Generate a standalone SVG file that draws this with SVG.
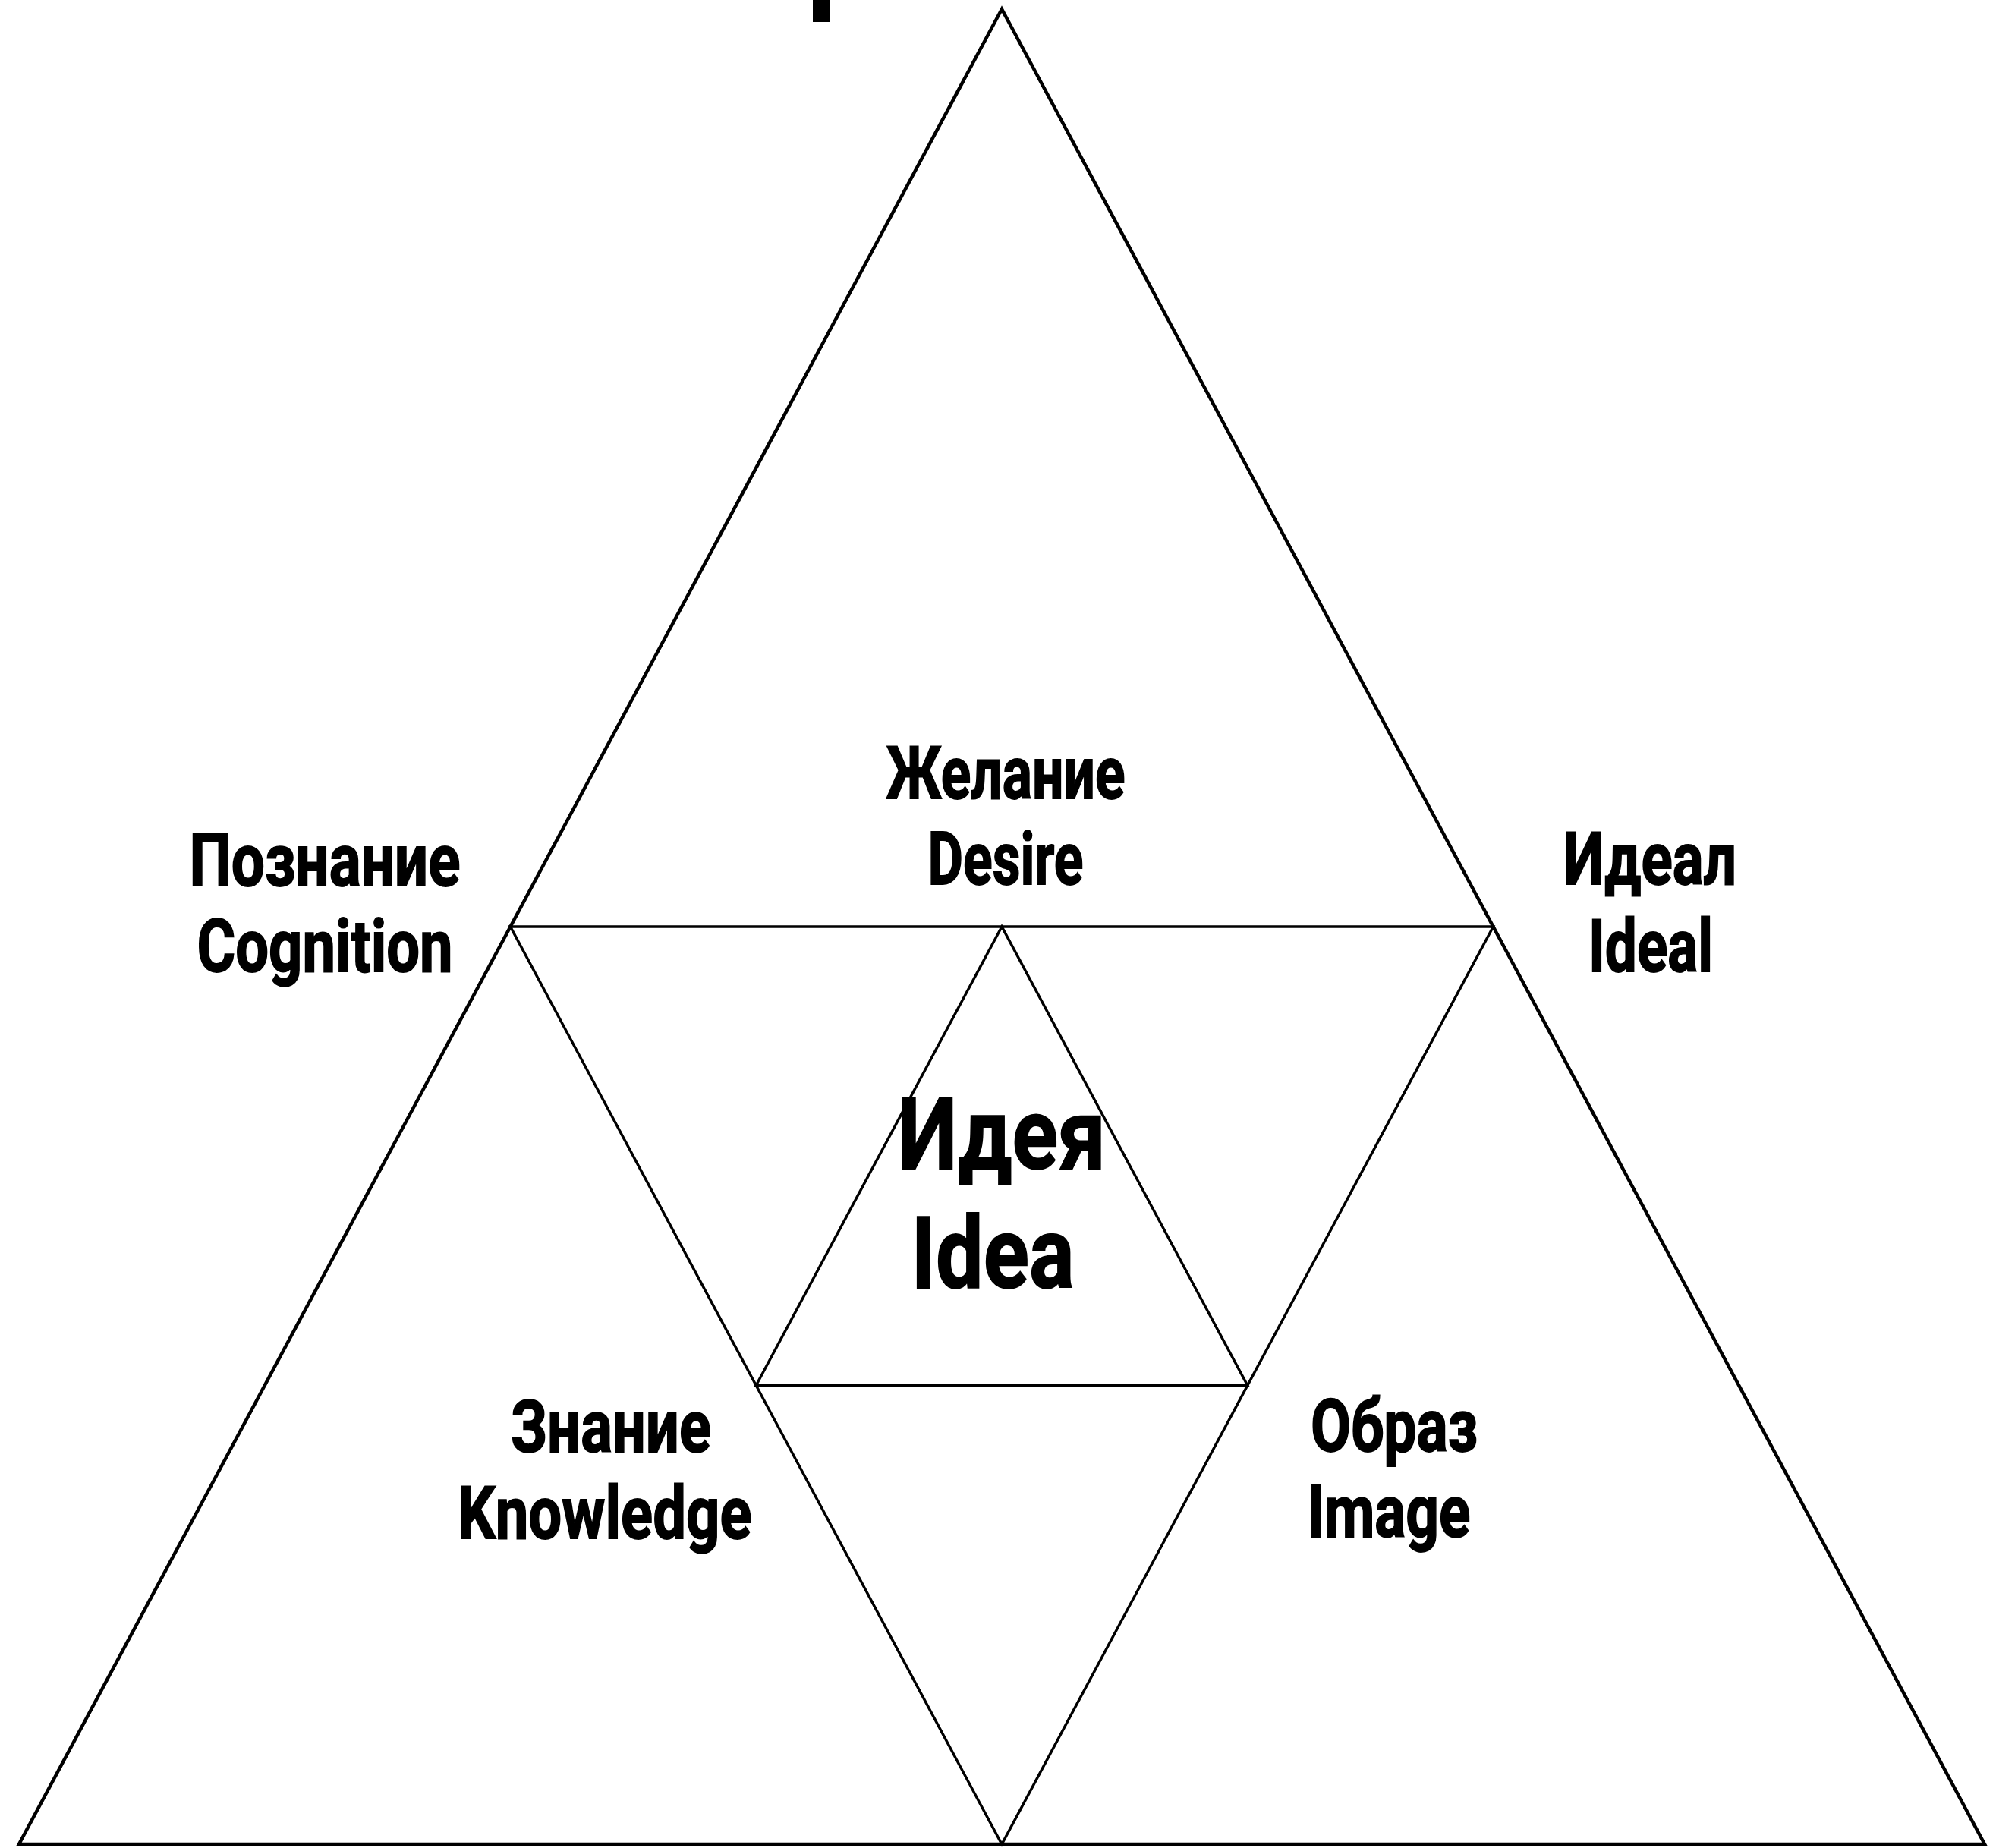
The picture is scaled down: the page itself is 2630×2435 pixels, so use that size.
<svg xmlns="http://www.w3.org/2000/svg" width="2630" height="2435" viewBox="0 0 2630 2435">
<style>
.ln{fill:none;stroke:#000;stroke-linejoin:miter}
.o{stroke-width:4.5}
.i{stroke-width:3.5}
text{font-family:"Roboto","Liberation Sans",sans-serif;font-weight:bold;fill:#000;text-anchor:middle;stroke:#000;stroke-width:1.8}
.lb{font-size:96px}
.big{font-size:132px}
</style>
<rect x="0" y="0" width="2630" height="2435" fill="#fff"/>
<rect x="1071" y="0" width="22" height="29" fill="#000"/>
<g id="connectors">
<polygon class="ln o" points="1320,12 25,2430 2615,2430"/>
<polygon class="ln i" points="672.5,1221 1967.5,1221 1320,2430"/>
<polygon class="ln i" points="1320,1221 996.25,1825.5 1643.75,1825.5"/>
</g>
<g id="desire">
<text class="lb" x="1325" y="1052" textLength="315" lengthAdjust="spacingAndGlyphs">Желание</text>
<text class="lb" x="1325" y="1165" textLength="205" lengthAdjust="spacingAndGlyphs">Desire</text>
</g>
<g id="cognition">
<text class="lb" x="428" y="1167" textLength="357" lengthAdjust="spacingAndGlyphs">Познание</text>
<text class="lb" x="428" y="1280" textLength="337" lengthAdjust="spacingAndGlyphs">Cognition</text>
</g>
<g id="ideal">
<text class="lb" x="2174" y="1165" textLength="228" lengthAdjust="spacingAndGlyphs">Идеал</text>
<text class="lb" x="2175" y="1280" textLength="164" lengthAdjust="spacingAndGlyphs">Ideal</text>
</g>
<g id="knowledge">
<text class="lb" x="805" y="1913" textLength="264" lengthAdjust="spacingAndGlyphs">Знание</text>
<text class="lb" x="797" y="2027" textLength="387" lengthAdjust="spacingAndGlyphs">Knowledge</text>
</g>
<g id="image">
<text class="lb" x="1837" y="1912" textLength="220" lengthAdjust="spacingAndGlyphs">Образ</text>
<text class="lb" x="1830" y="2025" textLength="215" lengthAdjust="spacingAndGlyphs">Image</text>
</g>
<g id="idea">
<text class="big" x="1320" y="1540" textLength="274" lengthAdjust="spacingAndGlyphs">Идея</text>
<text class="big" x="1308" y="1697" textLength="215" lengthAdjust="spacingAndGlyphs">Idea</text>
</g>
</svg>
